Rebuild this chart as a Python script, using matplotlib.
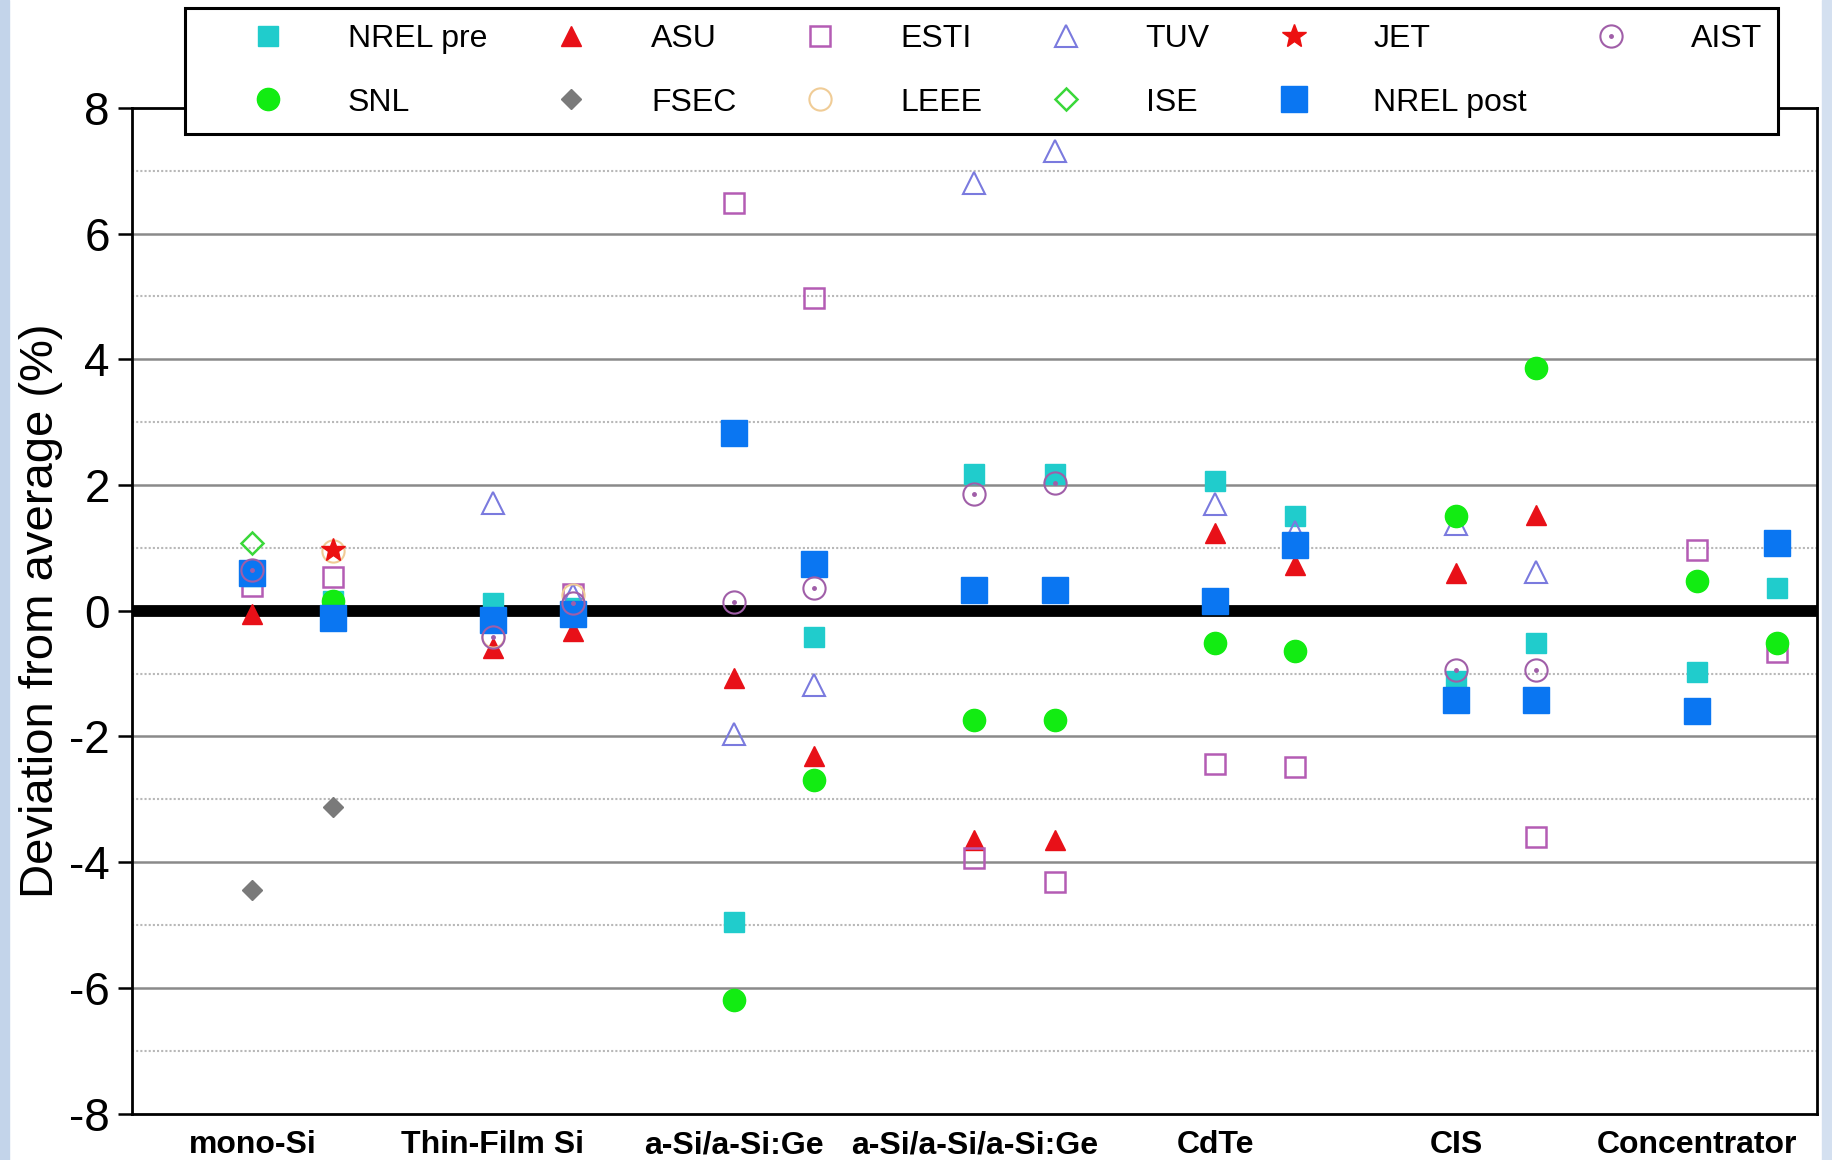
import numpy as np
import matplotlib.pyplot as plt
from matplotlib.patches import Rectangle

plt.rcParams['font.family'] = ['Liberation Sans', 'DejaVu Sans']
plt.rcParams['axes.unicode_minus'] = False

# module categories, two samples per category
categories = ['mono-Si', 'Thin-Film Si', 'a-Si/a-Si:Ge', 'a-Si/a-Si/a-Si:Ge',
              'CdTe', 'CIS', 'Concentrator']

# deviation from average (%) for each lab, 14 samples (2 per category)
nrel_pre = [0.55, 0.15, 0.13, 0.05, -4.95, -0.42, 2.18, 2.18, 2.07, 1.51, -1.12, -0.51, -0.98, 0.36]
asu = [-0.05, None, -0.6, -0.33, -1.07, -2.31, -3.65, -3.65, 1.24, 0.72, 0.6, 1.53, None, None]
esti = [0.4, 0.53, None, 0.27, 6.48, 4.97, -3.93, -4.32, -2.44, -2.48, None, -3.6, 0.96, -0.66]
tuv = [None, None, 1.71, 0.25, -1.96, -1.18, 6.81, 7.31, 1.7, 1.25, 1.38, 0.62, None, None]
jet = [None, 0.97, None, None, None, None, None, None, None, None, None, None, None, None]
aist = [0.65, None, -0.42, 0.12, 0.14, 0.36, 1.85, 2.03, None, None, -0.94, -0.94, None, None]
snl = [None, 0.15, None, None, -6.2, -2.69, -1.74, -1.74, -0.51, -0.64, 1.51, 3.86, 0.47, -0.51]
fsec = [-4.45, -3.12, None, None, None, None, None, None, None, None, None, None, None, None]
leee = [None, 0.95, -0.4, 0.25, None, None, None, None, None, None, None, None, None, None]
ise = [1.07, None, None, None, None, None, None, None, None, None, None, None, None, None]
nrel_post = [0.6, -0.12, -0.15, -0.05, 2.82, 0.75, 0.33, 0.33, 0.16, 1.05, -1.42, -1.42, -1.59, 1.07]

# x position of each sample: category slot * 3 + sample number
x = np.array([3 * g + k for g in range(len(categories)) for k in range(2)])


def vals(v):
    return np.array([np.nan if a is None else a for a in v], dtype=float)


fig = plt.figure(figsize=(18.32, 11.6), dpi=100)
fig.patch.set_facecolor('white')
# slide background strips at the edges
fig.patches.append(Rectangle((0, 0), 0.005, 1, transform=fig.transFigure, color='#c3d4ea', zorder=0))
fig.patches.append(Rectangle((0.9945, 0), 0.0055, 1, transform=fig.transFigure, color='#d4e0f0', zorder=0))

ax = fig.add_axes([0.072, 0.040, 0.9198, 0.867])

# grid: solid at even values, dotted at odd values
for v in [-6, -4, -2, 2, 4, 6]:
    ax.axhline(v, color='#8a8a8a', lw=1.8, zorder=1)
for v in [-7, -5, -3, -1, 1, 3, 5, 7]:
    ax.axhline(v, color='#b8b8b8', lw=1.5, ls=(0, (1, 1)), zorder=1)
ax.axhline(0, color='black', lw=8.5, zorder=2)

kw = dict(ls='none', zorder=3)
h_pre, = ax.plot(x, vals(nrel_pre), marker='s', ms=15, color='#20cccc', mec='#20cccc', **kw)
h_asu, = ax.plot(x, vals(asu), marker='^', ms=15, color='#e81018', mec='#e81018', **kw)
h_esti, = ax.plot(x, vals(esti), marker='s', ms=15, mfc='none', mec='#b45cb4', mew=1.8, **kw)
h_tuv, = ax.plot(x, vals(tuv), marker='^', ms=16, mfc='none', mec='#7a7ade', mew=1.5, **kw)
h_snl, = ax.plot(x, vals(snl), marker='o', ms=16, color='#12ec12', mec='#12ec12', **kw)
h_fsec, = ax.plot(x, vals(fsec), marker='D', ms=10, color='#7a7a7a', mec='#7a7a7a', **kw)
h_leee, = ax.plot(x, vals(leee), marker='o', ms=16, mfc='none', mec='#f0cc96', mew=1.5, **kw)
h_ise, = ax.plot(x, vals(ise), marker='D', ms=11, mfc='none', mec='#3ad83a', mew=1.8, **kw)
h_post, = ax.plot(x, vals(nrel_post), marker='s', ms=19, color='#0a76f2', mec='#0a76f2', **kw)
h_jet, = ax.plot(x, vals(jet), marker='*', ms=18, color='#ec1010', mec='#ec1010', **kw)
h_aist1, = ax.plot(x, vals(aist), marker='o', ms=16, mfc='none', mec='#a05ea8', mew=1.5, **kw)
h_aist2, = ax.plot(x, vals(aist), marker='o', ms=2.5, color='#a05ea8', **kw)

ax.set_xlim(-1.5, 19.5)
ax.set_ylim(-8, 8)
ax.set_yticks(range(-8, 9, 2))
ax.set_xticks(3 * np.arange(len(categories)))
ax.set_xticklabels(categories, fontsize=23, fontweight='bold')
ax.tick_params(axis='x', length=0, pad=12)
ax.tick_params(axis='y', length=10, width=1.8, labelsize=33, pad=6)
ax.set_ylabel('Deviation from average (%)', fontsize=34, labelpad=4)
for s in ax.spines.values():
    s.set_linewidth(2)

handles = [h_pre, h_snl, h_asu, h_fsec, h_esti, h_leee, h_tuv, h_ise, h_jet, h_post, (h_aist1, h_aist2)]
labels = ['NREL pre', 'SNL', 'ASU', 'FSEC', 'ESTI', 'LEEE', 'TUV', 'ISE', 'JET', 'NREL post', 'AIST']
leg = fig.legend(handles, labels, ncol=6, loc='center', mode='expand',
                 bbox_to_anchor=(185 / 1832, 1 - 133 / 1160, (1778 - 185) / 1832, (133 - 9) / 1160),
                 fontsize=23, frameon=True, fancybox=False, edgecolor='black', framealpha=1,
                 handlelength=4.2, handletextpad=0.4, labelspacing=1.04, borderpad=0.5,
                 borderaxespad=0)
leg.get_frame().set_linewidth(2.2)

fig.savefig('out.png', dpi=100)
